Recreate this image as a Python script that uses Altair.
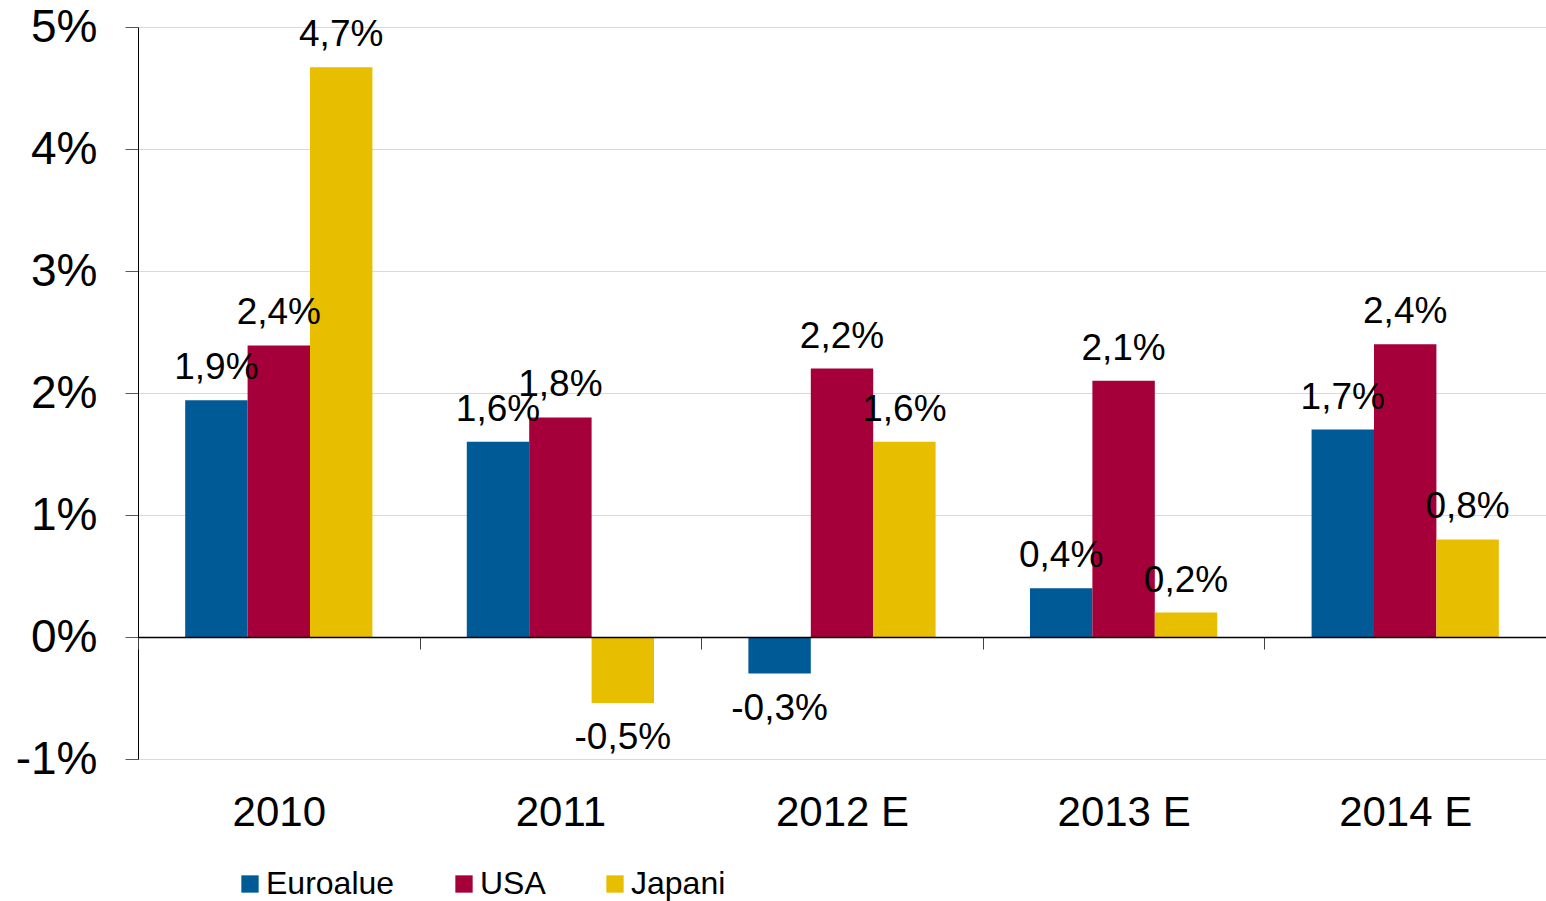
import altair as alt
import pandas as pd

years = ["2010", "2011", "2012 E", "2013 E", "2014 E"]
series = ["Euroalue", "USA", "Japani"]
euroalue = [1.94, 1.6, -0.3, 0.4, 1.7]
usa = [2.39, 1.8, 2.2, 2.1, 2.4]
japani = [4.67, -0.54, 1.6, 0.2, 0.8]
colors = ["#005A96", "#A6003A", "#E8BE00"]
y_ticks = [-1, 0, 1, 2, 3, 4, 5]

rows = []
for name, vals in zip(series, [euroalue, usa, japani]):
    for yr, v in zip(years, vals):
        rows.append({"vuosi": yr, "alue": name, "arvo": v,
                     "teksti": f"{v:.1f}".replace(".", ",") + "%"})
df = pd.DataFrame(rows)

W, H = 1408, 732
FONT = "Liberation Sans"

x = alt.X("vuosi:N", sort=years,
          scale=alt.Scale(paddingInner=0, paddingOuter=0),
          axis=alt.Axis(title=None, labelAngle=0, labelFontSize=42, labelFont=FONT,
                        labelColor="black", domainColor="black", domainWidth=1.5,
                        ticks=True, tickBand="extent", tickSize=12, tickColor="#404040",
                        labelPadding=143, offset=-H / 6, grid=False, zindex=1))
xo = alt.XOffset("alue:N", sort=series,
                 scale=alt.Scale(paddingInner=0, paddingOuter=0.756))
y = alt.Y("arvo:Q", scale=alt.Scale(domain=[-1, 5], nice=False, zero=False),
          axis=alt.Axis(title=None, values=y_ticks, labelExpr="datum.value + '%'",
                        labelFontSize=46, labelFont=FONT, labelColor="black",
                        labelPadding=28, tickSize=13, tickColor="#595959",
                        domainColor="black", gridColor="#D9D9D9"))

bars = alt.Chart(df).mark_bar().encode(
    x=x, xOffset=xo, y=y,
    color=alt.Color("alue:N", sort=series, scale=alt.Scale(domain=series, range=colors),
                    legend=alt.Legend(title=None, orient="none", legendX=96, legendY=841,
                                      direction="horizontal", columns=3,
                                      labelFontSize=32, labelFont=FONT, labelColor="black",
                                      symbolType="square", symbolSize=300,
                                      symbolStrokeWidth=0, symbolOpacity=1,
                                      labelOffset=0, columnPadding=53)),
)

pos = alt.Chart(df).transform_filter("datum.arvo >= 0").mark_text(
    fontSize=37, font=FONT, color="black", baseline="middle", dy=-32
).encode(x=x, xOffset=xo, y=y, text="teksti:N")

neg = alt.Chart(df).transform_filter("datum.arvo < 0").mark_text(
    fontSize=37, font=FONT, color="black", baseline="middle", dy=35
).encode(x=x, xOffset=xo, y=y, text="teksti:N")

chart = alt.layer(bars, pos, neg).properties(
    width=W, height=H,
    padding={"left": 138, "top": 27, "right": 0, "bottom": 142},
    autosize=alt.AutoSizeParams(type="none"),
).configure_view(stroke=None)

chart.save("out.html", embed_options={"renderer": "svg", "actions": False})
